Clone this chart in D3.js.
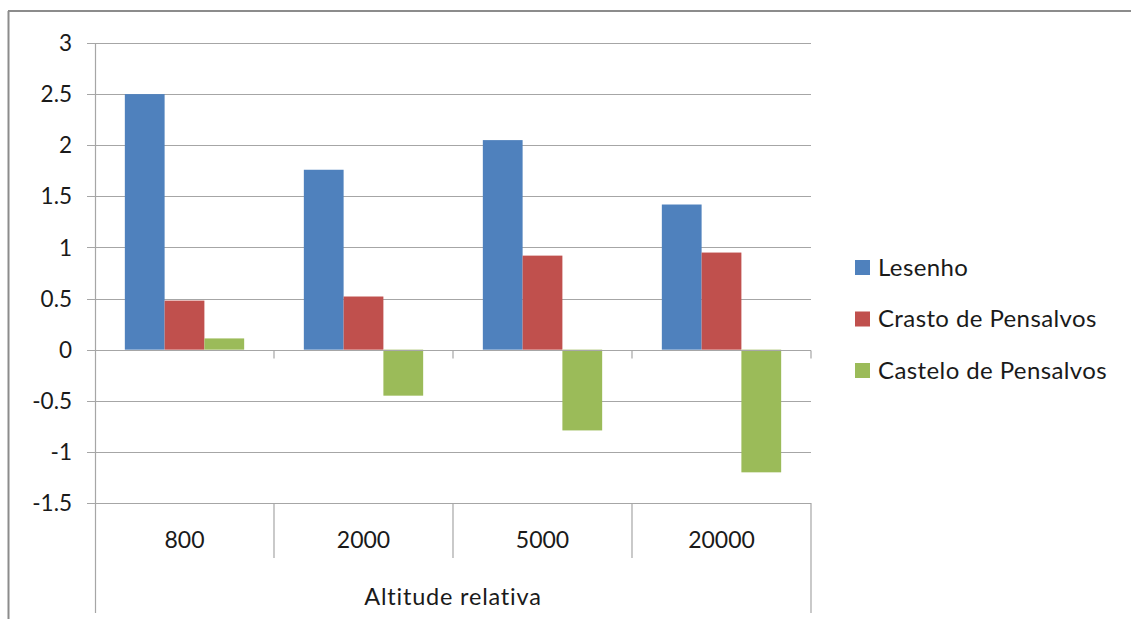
<!DOCTYPE html>
<html><head><meta charset="utf-8">
<script src="https://cdn.jsdelivr.net/npm/d3@7"></script>
<style>body{margin:0;background:#fff}svg{display:block}text{font-family:Lato,"Open Sans",sans-serif;fill:#1a1a1a}</style>
</head><body>
<script>
const categories = ["800","2000","5000","20000"];
const seriesNames = ["Lesenho","Crasto de Pensalvos","Castelo de Pensalvos"];
const lesenho = [2.5, 1.76, 2.05, 1.42];
const crasto = [0.48, 0.52, 0.92, 0.95];
const castelo = [0.11, -0.45, -0.79, -1.2];
const colors = ["#4F81BD","#C0504D","#9BBB59"];
const yTicks = [-1.5,-1,-0.5,0,0.5,1,1.5,2,2.5,3];
const axisTitle = "Altitude relativa";
const series = [lesenho, crasto, castelo];

const W=1131,H=619;
const svg=d3.select("body").append("svg").attr("width",W).attr("height",H);
const grid="#a6a6a6";
// frame
svg.append("line").attr("x1",8.5).attr("x2",8.5).attr("y1",11).attr("y2",H).attr("stroke","#8c8c8c").attr("stroke-width",2);
svg.append("line").attr("x1",8).attr("x2",W).attr("y1",11).attr("y2",11).attr("stroke","#8c8c8c").attr("stroke-width",2);

const L=95,R=811,T=43,B=503;
const x=d3.scaleBand().domain(categories).range([L,R]);
const y=d3.scaleLinear().domain([-1.5,3]).range([B,T]);
const gap=x.bandwidth()/6;
const inner=d3.scaleBand().domain(d3.range(3)).range([gap,x.bandwidth()-gap]);

// gridlines + ticks
yTicks.forEach(t=>{
  svg.append("line").attr("x1",L-8).attr("x2",R).attr("y1",Math.round(y(t))+0.5).attr("y2",Math.round(y(t))+0.5).attr("stroke",grid).attr("stroke-width",1.2);
  svg.append("text").attr("x",72).attr("y",y(t)).attr("dy","0.36em").attr("text-anchor","end").attr("font-size",22.5).text(String(t));
});
// bars
series.forEach((s,si)=>{
  svg.append("g").selectAll("rect").data(s).join("rect")
    .attr("x",(d,i)=>x(categories[i])+inner(si))
    .attr("width",inner.bandwidth())
    .attr("y",d=>Math.min(y(d),y(0)))
    .attr("height",d=>Math.abs(y(d)-y(0)))
    .attr("fill",colors[si]);
});
// zero line and ticks
const y0=Math.round(y(0))+0.5;
svg.append("line").attr("x1",L).attr("x2",R).attr("y1",y0).attr("y2",y0).attr("stroke",grid).attr("stroke-width",1.2);
categories.forEach((c,i)=>{
  const xe=x(c)+x.bandwidth();
  svg.append("line").attr("x1",xe).attr("x2",xe).attr("y1",y0).attr("y2",y0+8).attr("stroke",grid).attr("stroke-width",1.2);
});
// y axis line
svg.append("line").attr("x1",L+0.5).attr("x2",L+0.5).attr("y1",T).attr("y2",613).attr("stroke",grid).attr("stroke-width",1.2);
// category dividers
categories.forEach((c,i)=>{
  const xe=x(c)+x.bandwidth();
  svg.append("line").attr("x1",xe).attr("x2",xe).attr("y1",B).attr("y2",i===categories.length-1?613:558).attr("stroke",grid).attr("stroke-width",1.2);
  svg.append("text").attr("x",x(c)+x.bandwidth()/2).attr("y",540).attr("dy","0.36em").attr("text-anchor","middle").attr("font-size",23).text(c);
});
svg.append("text").attr("x",(L+R)/2).attr("y",597).attr("dy","0.36em").attr("text-anchor","middle").attr("font-size",23.5).attr("letter-spacing",0.8).text(axisTitle);
// legend
seriesNames.forEach((n,i)=>{
  const ly=267+i*51.5;
  svg.append("rect").attr("x",855).attr("y",ly-7).attr("width",15).attr("height",15).attr("fill",colors[i]);
  svg.append("text").attr("x",878).attr("y",ly).attr("dy","0.36em").attr("font-size",24).attr("letter-spacing",0.4).text(n);
});
</script>
</body></html>
